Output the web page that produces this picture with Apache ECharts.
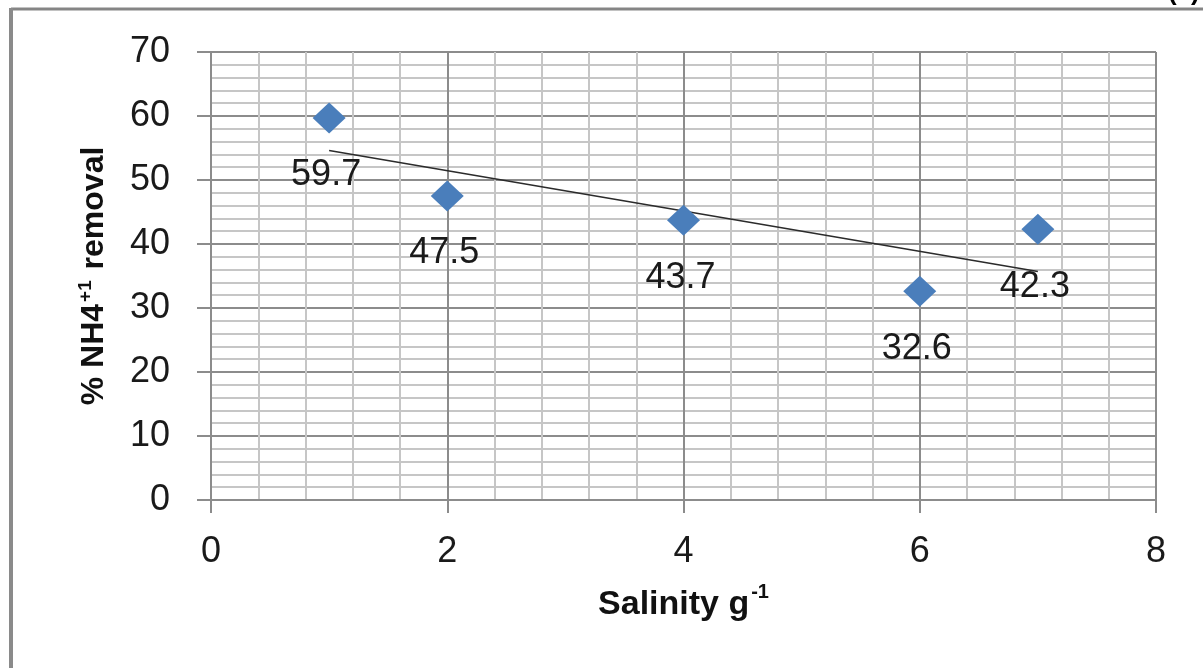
<!DOCTYPE html>
<html>
<head>
<meta charset="utf-8">
<script src="https://cdn.jsdelivr.net/npm/echarts@6/dist/echarts.min.js"></script>
<style>
html,body{margin:0;padding:0;background:#fff;}
#c{width:1203px;height:668px;}
</style>
</head>
<body>
<div id="c"></div>
<script>
// Data
var salinity = [1, 2, 4, 6, 7];
var removal = [59.7, 47.5, 43.7, 32.6, 42.3];
var trendX = [1, 7];
var trendY = [54.6, 35.7];
var xTicks = [0, 2, 4, 6, 8];
var yTicks = [0, 10, 20, 30, 40, 50, 60, 70];

var points = salinity.map(function (x, i) { return [x, removal[i]]; });
var trend = trendX.map(function (x, i) { return [x, trendY[i]]; });

var FONT = '"Liberation Sans", Arial, sans-serif';
var chart = echarts.init(document.getElementById('c'), null, {renderer: 'canvas'});

chart.setOption({
  backgroundColor: '#ffffff',
  animation: false,
  grid: {left: 211, right: 47, top: 52, bottom: 168, containLabel: false},
  xAxis: {
    type: 'value',
    min: xTicks[0], max: xTicks[xTicks.length - 1], interval: 2,
    name: '{b|Salinity g}{s|-1}',
    nameLocation: 'middle',
    nameGap: 82,
    nameTextStyle: {
      rich: {
        b: {fontFamily: FONT, fontWeight: 'bold', fontSize: 34, color: '#111', lineHeight: 40, verticalAlign: 'bottom'},
        s: {fontFamily: FONT, fontWeight: 'bold', fontSize: 20, color: '#111', lineHeight: 40, verticalAlign: 'top', padding: [0, 0, 16, 2]}
      }
    },
    axisLine: {show: true, lineStyle: {color: '#8c8c8c', width: 2}},
    axisTick: {show: true, length: 13, lineStyle: {color: '#8c8c8c', width: 2}},
    axisLabel: {fontFamily: FONT, fontSize: 36, color: '#1a1a1a', margin: 34},
    splitLine: {show: true, lineStyle: {color: '#8c8c8c', width: 2}},
    minorTick: {show: false, splitNumber: 5},
    minorSplitLine: {show: true, lineStyle: {color: '#c6c6c6', width: 2}}
  },
  yAxis: {
    type: 'value',
    min: yTicks[0], max: yTicks[yTicks.length - 1], interval: 10,
    name: '{b|% NH4}{s|+1}{b| removal}',
    nameLocation: 'middle',
    nameRotate: 90,
    nameGap: 98,
    nameTextStyle: {
      rich: {
        b: {fontFamily: FONT, fontWeight: 'bold', fontSize: 32, color: '#111', lineHeight: 38},
        s: {fontFamily: FONT, fontWeight: 'bold', fontSize: 19, color: '#111', lineHeight: 38, padding: [0, 2, 16, 2]}
      }
    },
    axisLine: {show: true, lineStyle: {color: '#8c8c8c', width: 2}},
    axisTick: {show: true, length: 14, lineStyle: {color: '#8c8c8c', width: 2}},
    axisLabel: {fontFamily: FONT, fontSize: 36, color: '#1a1a1a', margin: 41},
    splitLine: {show: true, lineStyle: {color: '#8c8c8c', width: 2}},
    minorTick: {show: false, splitNumber: 5},
    minorSplitLine: {show: true, lineStyle: {color: '#c6c6c6', width: 2}}
  },
  series: [
    {
      type: 'line',
      data: trend,
      symbol: 'none',
      lineStyle: {color: '#2b2b2b', width: 1.6},
      z: 3,
      silent: true
    },
    {
      type: 'scatter',
      data: points,
      symbol: 'diamond',
      symbolSize: [33, 31],
      itemStyle: {color: '#4a7ebb', opacity: 1},
      z: 4,
      label: {
        show: true,
        position: 'bottom',
        distance: 24,
        offset: [-3, 0],
        fontFamily: FONT,
        fontSize: 36,
        color: '#1a1a1a',
        formatter: function (p) { return p.value[1].toFixed(1); }
      }
    }
  ],
  graphic: [
    {type: 'line', shape: {x1: 11, y1: 9, x2: 1203, y2: 9}, style: {stroke: '#858585', lineWidth: 3}},
    {type: 'line', shape: {x1: 11, y1: 8, x2: 11, y2: 668}, style: {stroke: '#8a8a8a', lineWidth: 4}},
    {type: 'text', left: 1168, top: -20, style: {text: '(a)', font: 'bold 26px ' + FONT, fill: '#000'}}
  ]
});
</script>
</body>
</html>
